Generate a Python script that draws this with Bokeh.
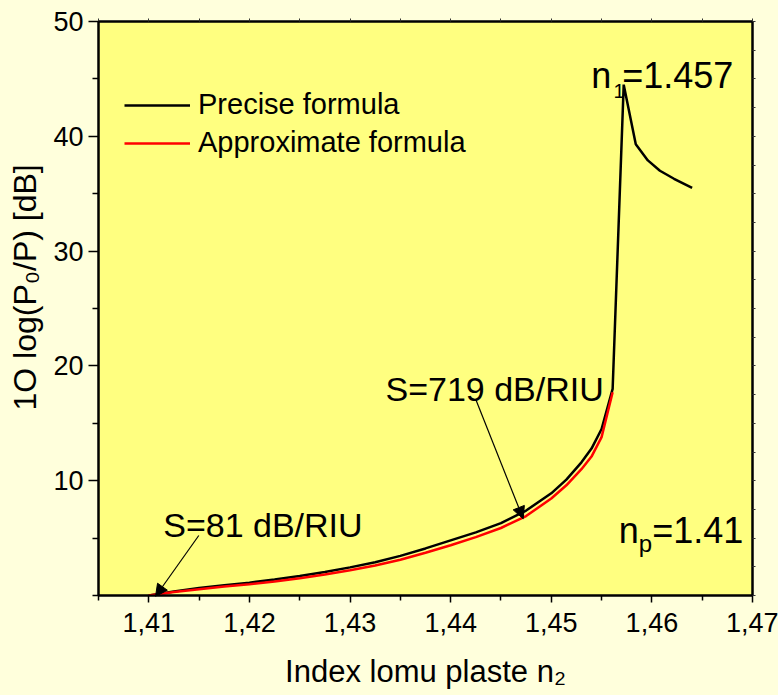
import numpy as np
from bokeh.plotting import figure
from bokeh.models import (LinearAxis, FixedTicker, Range1d, Label, Arrow,
                          NormalHead, Legend, LegendItem, Title)
from bokeh.embed import file_html
from bokeh.resources import INLINE

# ---- data ----
n_precise = [1.4100, 1.4125, 1.4150, 1.4175, 1.4200, 1.4225, 1.4250, 1.4275,
             1.4300, 1.4325, 1.4350, 1.4375, 1.4400, 1.4425, 1.4450, 1.4475,
             1.4500, 1.4515, 1.4530, 1.4540, 1.4550, 1.4561, 1.4572, 1.4584,
             1.4596, 1.4608, 1.4622, 1.4640]
db_precise = [0.0, 0.35, 0.65, 0.9, 1.12, 1.4, 1.7, 2.05,
              2.45, 2.9, 3.45, 4.1, 4.8, 5.5, 6.3, 7.4,
              8.9, 10.1, 11.6, 12.8, 14.5, 18.0, 44.5, 39.3,
              37.9, 37.0, 36.3, 35.5]

n_approx = [1.4100, 1.4125, 1.4150, 1.4175, 1.4200, 1.4225, 1.4250, 1.4275,
            1.4300, 1.4325, 1.4350, 1.4375, 1.4400, 1.4425, 1.4450, 1.4475,
            1.4500, 1.4515, 1.4530, 1.4540, 1.4550, 1.4561]
db_approx = [0.0, 0.3, 0.55, 0.78, 0.98, 1.22, 1.5, 1.82,
             2.2, 2.62, 3.12, 3.72, 4.38, 5.08, 5.88, 6.92,
             8.45, 9.6, 11.0, 12.1, 13.8, 17.7]

x_ticks = [1.41, 1.42, 1.43, 1.44, 1.45, 1.46, 1.47]
x_tick_labels = ["1,41", "1,42", "1,43", "1,44", "1,45", "1,46", "1,47"]
x_minor = [1.405, 1.415, 1.425, 1.435, 1.445, 1.455, 1.465]
y_ticks = [10, 20, 30, 40, 50]
y_minor = [0, 5, 15, 25, 35, 45]
y_right_ticks = [0, 2.5, 5, 7.5, 10, 12.5, 15, 17.5, 20, 22.5, 25, 27.5, 30,
                 32.5, 35, 37.5, 40, 42.5, 45, 47.5, 50]
x_top_ticks = [1.405, 1.41, 1.415, 1.42, 1.425, 1.43, 1.435, 1.44, 1.445,
               1.45, 1.455, 1.46, 1.465, 1.47]
x_title = "Index lomu plaste n\u2082"
y_title = "1O log(P\u2080/P)  [dB]"

FONT = "Liberation Sans"
TICKFONT = "Liberation Sans Narrow, Liberation Sans"
OUTER = "#FFFFDC"
INNER = "#FFFF80"

X0, X1, Y0, Y1 = 1.405, 1.47, 0, 50
W, H = 778, 695
BL, BR, BT, BB = 98, 26, 21, 100
FW, FH = W - BL - BR, H - BT - BB

def px(xp):   # page pixel -> data x
    return X0 + (xp - BL) / FW * (X1 - X0)

def py(yp):   # page pixel -> data y
    return Y1 - (yp - BT) / FH * (Y1 - Y0)

p = figure(width=W, height=H,
           x_range=Range1d(X0, X1), y_range=Range1d(Y0, Y1),
           output_backend="svg", toolbar_location=None,
           min_border_left=BL, min_border_right=BR,
           min_border_top=BT, min_border_bottom=BB,
           background_fill_color=INNER, border_fill_color=OUTER,
           x_axis_label=x_title)

p.grid.visible = False
p.outline_line_color = "black"
p.outline_line_width = 2

# bottom axis
xa = p.xaxis[0]
xa.ticker = FixedTicker(ticks=x_ticks, minor_ticks=x_minor)
xa.major_label_overrides = dict(zip(x_ticks, x_tick_labels))
xa.major_tick_in = 0
xa.major_tick_out = 7
xa.minor_tick_in = 0
xa.minor_tick_out = 5
xa.major_label_standoff = 10
xa.axis_label_standoff = 19
xa.axis_label_text_font = FONT
xa.axis_label_text_font_size = "31px"
xa.axis_label_text_font_style = "normal"
xa.axis_label_text_color = "black"

# left axis
ya = p.yaxis[0]
ya.ticker = FixedTicker(ticks=y_ticks, minor_ticks=y_minor)
ya.major_tick_in = 0
ya.major_tick_out = 10
ya.minor_tick_in = 0
ya.minor_tick_out = 6
ya.major_label_standoff = 5

for ax in (xa, ya):
    ax.axis_line_width = 2
    ax.axis_line_color = "black"
    ax.major_tick_line_width = 1.5
    ax.minor_tick_line_width = 1.5
    ax.major_tick_line_color = "black"
    ax.minor_tick_line_color = "black"
    ax.major_label_text_font = TICKFONT
    ax.major_label_text_font_size = "27px"
    ax.major_label_text_color = "black"

# y title, shifted upward like the reference
yt = Title(text=y_title, align="left", offset=185, standoff=12,
           vertical_align="top",
           text_font=FONT, text_font_size="32px", text_font_style="normal",
           text_color="black")
p.add_layout(yt, "left")

# right & top axes: ticks only
ra = LinearAxis(ticker=FixedTicker(ticks=y_right_ticks, minor_ticks=[]))
ra.major_label_overrides = {t: "" for t in y_right_ticks}
ta = LinearAxis(ticker=FixedTicker(ticks=x_top_ticks, minor_ticks=[]))
ta.major_label_overrides = {t: "" for t in x_top_ticks}
for ax in (ra, ta):
    ax.major_tick_in = 0
    ax.major_tick_out = 3
    ax.minor_tick_in = 0
    ax.minor_tick_out = 0
    ax.major_label_standoff = 0
    ax.major_label_text_font_size = "1px"
    ax.axis_line_width = 2
    ax.major_tick_line_width = 1
    ax.major_tick_line_color = "#333333"
p.add_layout(ra, "right")
p.add_layout(ta, "above")

# curves
r1 = p.line(n_precise, db_precise, line_color="black", line_width=2.5)
r2 = p.line(n_approx, db_approx, line_color="red", line_width=2.5)

legend = Legend(items=[LegendItem(label="Precise formula", renderers=[r1]),
                       LegendItem(label="Approximate formula", renderers=[r2])],
                location=(26, 436))
legend.background_fill_alpha = 0
legend.border_line_color = None
legend.padding = 0
legend.margin = 0
legend.spacing = 5
legend.glyph_width = 66
legend.glyph_height = 28
legend.label_height = 28
legend.label_standoff = 8
legend.label_text_font = FONT
legend.label_text_font_size = "29px"
legend.label_text_color = "black"
p.add_layout(legend)

def lab(xp, yp, text, size):
    p.add_layout(Label(x=px(xp), y=py(yp), text=text, text_font=FONT,
                       text_font_size=size, text_color="black",
                       text_align="left", text_baseline="alphabetic"))

# n1 = 1.457
lab(590.7, 75, "n", "36px")
lab(613, 90, "1", "20px")
lab(621.7, 75, "=1.457", "36px")
# np = 1.41
lab(618.3, 530, "n", "36px")
lab(638.3, 543.3, "p", "24px")
lab(651.7, 530, "=1.41", "36px")
# sensitivities
lab(385, 388.3, "S=719 dB/RIU", "34px")
lab(162.7, 524, "S=81 dB/RIU", "34px")

p.add_layout(Arrow(end=NormalHead(size=12, fill_color="black", line_color="black"),
                   x_start=px(475.7), y_start=py(400), x_end=px(522.7), y_end=py(518.3),
                   line_width=1.2, line_color="black"))
p.add_layout(Arrow(end=NormalHead(size=12, fill_color="black", line_color="black"),
                   x_start=px(198.3), y_start=py(535), x_end=px(155), y_end=py(596),
                   line_width=1.2, line_color="black"))

html = file_html(p, INLINE)
html = html.replace("<head>", "<head><style>body{background:%s;}</style>" % OUTER, 1)
open("out.html", "w").write(html)
